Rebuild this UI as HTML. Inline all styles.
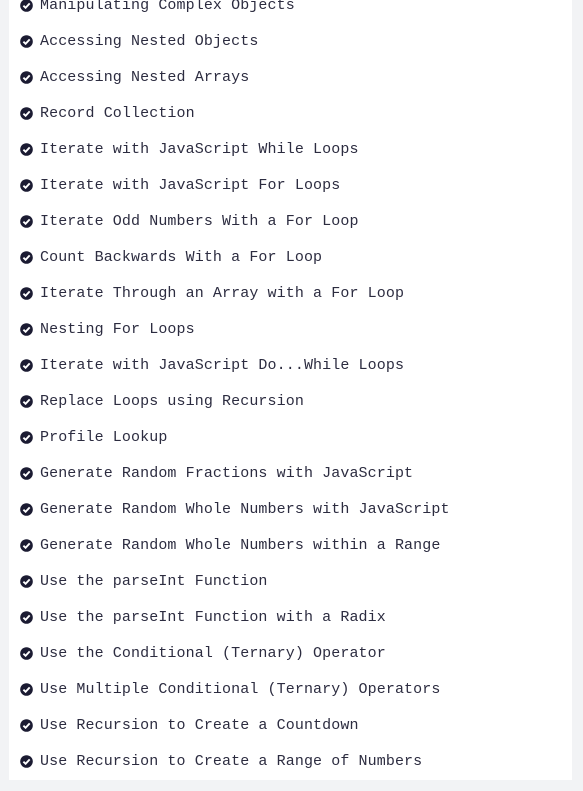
<!DOCTYPE html>
<html><head><style>
body{margin:0;background:#f2f3f5;width:583px;height:791px;overflow:hidden;position:relative}
.panel{position:absolute;left:9px;top:0;width:563px;height:780px;background:#fff}
.row{position:absolute;left:20px;height:20px;line-height:20px;font-family:"Liberation Mono",monospace;font-size:15px;color:#2c2c40;white-space:nowrap}
.row svg{position:absolute;left:0;top:2px}
.row span{position:absolute;left:20px;top:-1px;letter-spacing:0.1px}
</style></head><body>
<div class="panel"></div>
<div id="list"></div>
<script>
const items=["Manipulating Complex Objects","Accessing Nested Objects","Accessing Nested Arrays","Record Collection","Iterate with JavaScript While Loops","Iterate with JavaScript For Loops","Iterate Odd Numbers With a For Loop","Count Backwards With a For Loop","Iterate Through an Array with a For Loop","Nesting For Loops","Iterate with JavaScript Do...While Loops","Replace Loops using Recursion","Profile Lookup","Generate Random Fractions with JavaScript","Generate Random Whole Numbers with JavaScript","Generate Random Whole Numbers within a Range","Use the parseInt Function","Use the parseInt Function with a Radix","Use the Conditional (Ternary) Operator","Use Multiple Conditional (Ternary) Operators","Use Recursion to Create a Countdown","Use Recursion to Create a Range of Numbers"];
let h="";
items.forEach((t,i)=>{const y=-3+i*36;
h+=`<div class="row" style="top:${y}px"><svg width="13" height="13" viewBox="0 0 13 13"><circle cx="6.5" cy="6.5" r="6.3" fill="#1b1b32"/><path d="M3.4 6.7 L5.6 8.8 L9.7 4.4" stroke="#fff" stroke-width="1.9" fill="none"/></svg><span>${t}</span></div>`;});
document.getElementById("list").innerHTML=h;
</script>
</body></html>
